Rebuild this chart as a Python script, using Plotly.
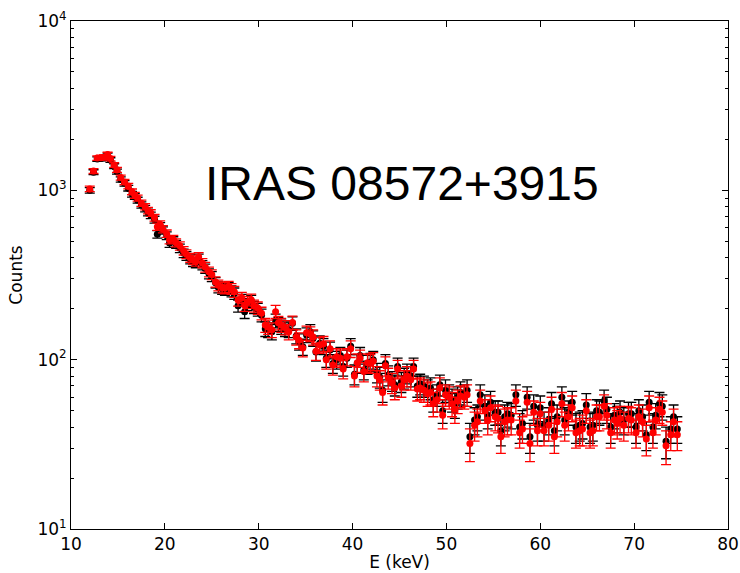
import plotly.graph_objects as go

# ---- data ----
energy = [12.0, 12.4, 12.8, 13.2, 13.5, 13.9, 14.2, 14.6, 14.9, 15.3,
          15.7, 16.1, 16.5, 16.8, 17.1, 17.5, 17.9, 18.2, 18.5, 18.9,
          19.2, 19.5, 19.8, 20.2, 20.5, 20.9, 21.2, 21.6, 22.0, 22.3,
          22.7, 23.0, 23.3, 23.6, 24.0, 24.3, 24.7, 25.0, 25.4, 25.7,
          26.1, 26.4, 26.8, 27.1, 27.4, 27.8, 28.2, 28.5, 28.8, 29.2,
          29.5, 29.9, 30.3, 30.7, 31.0, 31.4, 31.8, 32.1, 32.4, 32.8,
          33.2, 33.6, 34.0, 34.3, 34.7, 35.1, 35.5, 35.8, 36.1, 36.5,
          36.9, 37.2, 37.6, 37.9, 38.3, 38.7, 39.0, 39.4, 39.8, 40.2,
          40.5, 40.8, 41.2, 41.6, 41.9, 42.2, 42.6, 42.9, 43.2, 43.5,
          43.8, 44.2, 44.5, 44.8, 45.2, 45.5, 45.8, 46.2, 46.5, 46.9,
          47.2, 47.6, 48.0, 48.3, 48.6, 49.0, 49.3, 49.6, 49.9, 50.3,
          50.6, 50.9, 51.2, 51.5, 51.9, 52.2,
          52.5, 53.0, 53.3, 53.6, 54.1, 54.4, 54.7, 55.2, 55.5, 55.8,
          56.2, 56.5, 56.9, 57.4, 57.8, 58.1, 58.6, 58.9, 59.3, 59.7,
          60.0, 60.4, 60.9, 61.2, 61.5, 61.8, 62.3, 62.6, 63.0, 63.4,
          63.8, 64.2, 64.5, 64.9, 65.3, 65.6, 66.0, 66.3, 66.8, 67.1,
          67.5, 67.9, 68.2, 68.5, 68.9, 69.4, 69.7, 70.2, 70.5, 70.9,
          71.3, 71.6, 72.0, 72.3, 72.7, 73.0, 73.4, 73.9, 74.2, 74.6]

counts_black = [1000, 1280, 1530, 1540, 1555, 1610, 1510, 1390, 1290, 1160,
                1100, 1030, 950, 920, 875, 820, 780, 740, 712, 672,
                550, 615, 580, 540, 488, 505, 480, 455, 425, 410,
                392, 378, 372, 396, 362, 345, 322, 310, 285, 268,
                262, 259, 265, 254, 246, 208, 225, 192, 212, 222,
                204, 198, 183, 152, 150, 146, 170, 162, 156, 152,
                150, 164, 138, 128, 119, 140, 146, 134, 111, 125,
                120, 102, 114, 95, 100, 106, 91, 102, 120, 82,
                95, 106, 87, 94, 97, 100, 84, 79, 66, 95,
                81, 75, 71, 91, 74, 78, 83, 80, 91, 70,
                72, 70, 66, 68, 58, 62, 71, 50, 66, 62,
                58, 54, 60, 64, 62, 66,
                35, 44, 46, 62, 53, 47, 56, 49, 49, 38,
                46, 48, 47, 62, 40, 42, 60, 35, 53, 41,
                52, 41, 44, 55, 38, 46, 60, 44, 49, 56,
                40, 41, 42, 54, 40, 41, 50, 49, 57, 51,
                40, 47, 45, 49, 44, 48, 48, 40, 50, 46,
                36, 56, 40, 47, 55, 53, 33, 39, 46, 39]

err_black = [38, 43, 47, 47, 47, 48, 47, 45, 43, 41,
             40, 39, 37, 36, 35, 34, 34, 33, 32, 31,
             28, 30, 29, 28, 27, 27, 26, 26, 25, 24,
             24, 23, 23, 24, 23, 22, 22, 21, 20, 20,
             19, 19, 20, 19, 19, 17, 18, 17, 17, 18,
             17, 17, 16, 15, 15, 15, 16, 15, 15, 15,
             15, 15, 14, 14, 13, 14, 15, 14, 13, 13,
             13, 12, 13, 12, 12, 12, 11, 12, 13, 11,
             12, 12, 11, 12, 12, 12, 11, 11, 10, 12,
             11, 10, 10, 11, 10, 11, 11, 11, 11, 10,
             10, 10, 10, 10, 9, 9, 10, 8, 10, 9,
             9, 9, 9, 10, 9, 10,
             7, 8, 8, 9, 9, 8, 9, 8, 8, 7,
             8, 8, 8, 9, 8, 8, 9, 7, 9, 8,
             9, 8, 8, 9, 7, 8, 9, 8, 8, 9,
             8, 8, 8, 9, 8, 8, 8, 8, 9, 9,
             8, 8, 8, 8, 8, 8, 8, 8, 8, 8,
             7, 9, 8, 8, 9, 9, 7, 7, 8, 7]

counts_red = [1020, 1300, 1550, 1560, 1570, 1630, 1540, 1410, 1320, 1190,
              1120, 1060, 980, 935, 900, 840, 800, 760, 735, 690,
              610, 630, 590, 555, 510, 515, 490, 470, 440, 420,
              400, 390, 380, 405, 372, 352, 330, 318, 288, 275,
              268, 265, 270, 262, 252, 225, 232, 210, 218, 226,
              208, 202, 188, 160, 156, 150, 192, 165, 160, 155,
              146, 166, 136, 130, 117, 144, 142, 136, 112, 122,
              124, 100, 116, 93, 104, 102, 88, 104, 116, 80,
              96, 102, 85, 96, 95, 98, 80, 76, 64, 92,
              78, 73, 68, 88, 70, 76, 80, 76, 88, 67,
              68, 66, 63, 64, 55, 58, 68, 47, 62, 60,
              55, 51, 57, 61, 60, 62,
              32, 41, 43, 57, 50, 44, 52, 46, 45, 35,
              43, 44, 44, 57, 37, 39, 56, 32, 49, 38,
              48, 38, 41, 51, 35, 43, 55, 41, 46, 52,
              37, 38, 39, 50, 37, 38, 46, 46, 53, 47,
              37, 44, 42, 45, 41, 45, 44, 37, 46, 43,
              34, 52, 37, 44, 51, 49, 31, 36, 43, 36]

err_red = [38, 43, 47, 47, 48, 48, 47, 45, 44, 41,
           40, 39, 38, 37, 36, 35, 34, 33, 33, 32,
           30, 30, 29, 28, 27, 27, 27, 26, 25, 25,
           24, 24, 23, 24, 23, 23, 22, 21, 20, 20,
           20, 20, 20, 19, 19, 18, 18, 17, 18, 18,
           17, 17, 16, 15, 15, 15, 17, 15, 15, 15,
           15, 15, 14, 14, 13, 14, 14, 14, 13, 13,
           13, 12, 13, 12, 12, 12, 11, 12, 13, 11,
           12, 12, 11, 12, 12, 12, 11, 10, 10, 12,
           11, 10, 10, 11, 10, 10, 11, 10, 11, 10,
           10, 10, 10, 10, 9, 9, 10, 8, 9, 9,
           9, 9, 9, 9, 9, 9,
           7, 8, 8, 9, 8, 8, 9, 8, 8, 7,
           8, 8, 8, 9, 7, 7, 9, 7, 8, 7,
           8, 7, 8, 9, 7, 8, 9, 8, 8, 9,
           7, 7, 8, 8, 7, 7, 8, 8, 9, 8,
           7, 8, 8, 8, 8, 8, 8, 7, 8, 8,
           7, 9, 7, 8, 9, 8, 7, 7, 8, 7]

x_ticks = [10, 20, 30, 40, 50, 60, 70, 80]
y_ticks = [10, 100, 1000, 10000]
y_ticktext = ["10<sup>1</sup>", "10<sup>2</sup>", "10<sup>3</sup>", "10<sup>4</sup>"]
y_minor = [m * d for d in (10, 100, 1000) for m in range(2, 10)]

title_text = "IRAS 08572+3915"

fig = go.Figure()
fig.add_trace(go.Scatter(
    x=energy, y=counts_black, mode="markers",
    marker=dict(color="black", size=7),
    error_y=dict(type="data", array=err_black, color="black", thickness=1.3, width=5),
    showlegend=False))
fig.add_trace(go.Scatter(
    x=energy, y=counts_red, mode="markers",
    marker=dict(color="red", size=7),
    error_y=dict(type="data", array=err_red, color="red", thickness=1.3, width=5),
    showlegend=False))

fig.add_annotation(text=title_text, xref="paper", yref="paper", x=0.504, y=0.681,
                   xanchor="center", yanchor="middle",
                   showarrow=False, font=dict(family="Liberation Sans", size=48, color="black"))

axis_font = dict(family="DejaVu Sans", size=17, color="black")
title_font = dict(family="DejaVu Sans", size=17, color="black")
fig.update_layout(
    width=740, height=573,
    margin=dict(l=71, r=12, t=21, b=44, autoexpand=False),
    paper_bgcolor="white", plot_bgcolor="white",
    xaxis=dict(range=[10, 80], tickvals=x_ticks, ticks="inside", ticklen=6, tickcolor="black",
               showline=True, linecolor="black", linewidth=1, mirror="allticks",
               showgrid=False, zeroline=False, tickfont=axis_font, automargin=False,
               title=dict(text="E (keV)", font=title_font, standoff=2)),
    yaxis=dict(type="log", range=[1, 4], tickvals=y_ticks, ticktext=y_ticktext,
               ticks="inside", ticklen=6, tickcolor="black",
               showline=True, linecolor="black", linewidth=1, mirror="allticks",
               showgrid=False, zeroline=False, tickfont=axis_font, automargin=False,
               minor=dict(tickmode="array", tickvals=y_minor, ticks="inside", ticklen=3,
                          tickcolor="black", showgrid=False),
               title=dict(text="Counts", font=title_font, standoff=10)),
)

fig.write_html("out.html")
